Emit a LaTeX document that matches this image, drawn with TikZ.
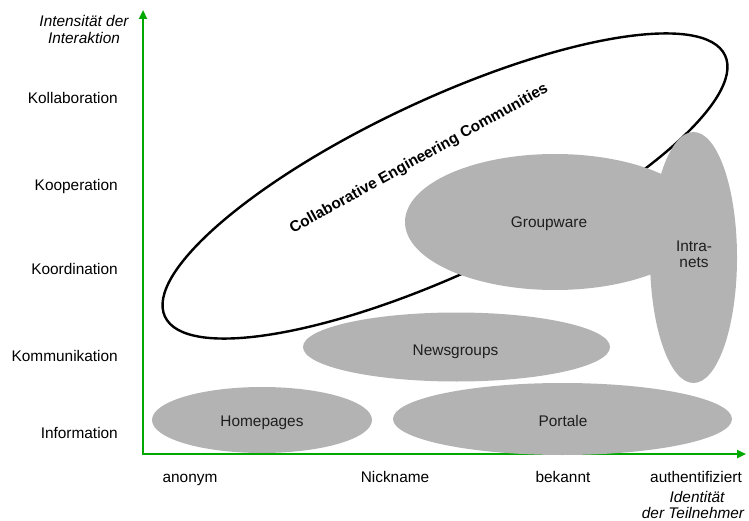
\documentclass[tikz,border=0pt]{standalone}
\usepackage{fontspec}
\setmainfont{Liberation Sans}
\usetikzlibrary{shapes.geometric,arrows.meta}
\definecolor{axisgreen}{RGB}{0,168,0}
\definecolor{blobgrey}{RGB}{179,179,179}
\definecolor{labelink}{RGB}{30,30,30}
\begin{document}
\begin{tikzpicture}[x=1pt,y=-1pt,
  lbl/.style={font=\fontsize{15.4}{17}\selectfont, inner sep=0pt, text=black},
  ilbl/.style={lbl, font=\fontsize{15.4}{17}\selectfont\itshape},
  blob/.style={ellipse, fill=blobgrey, draw=none, inner sep=0pt},
  bloblbl/.style={lbl, text=labelink, anchor=base},
  axisline/.style={draw=axisgreen, line width=2.5pt,
    {Triangle[length=9pt,width=8pt]}-{Triangle[length=9pt,width=8pt]}}]
\useasboundingbox (0,0) rectangle (749,521);

% axes
\coordinate (O) at (143,454);
\coordinate (ytop) at (143,10);
\coordinate (xend) at (746,454);
\draw[axisline] (ytop) -- (O) -- (xend);

% axis titles
\node[ilbl, anchor=base] (ytitleA) at (84,27) {Intensität der};
\node[ilbl, anchor=base] (ytitleB) at (84,44) {Interaktion};
\node[ilbl, anchor=base] (xtitleA) at (697,502) {Identität};
\node[ilbl, anchor=base] (xtitleB) at (693,518) {der Teilnehmer};

% levels of interaction
\node[lbl, anchor=base east] (kol) at (118,104) {Kollaboration};
\node[lbl, anchor=base east] (koop) at (118,191) {Kooperation};
\node[lbl, anchor=base east] (koord) at (118,274) {Koordination};
\node[lbl, anchor=base east] (komm) at (118,361) {Kommunikation};
\node[lbl, anchor=base east] (info) at (118,438) {Information};

% identity of participants
\node[lbl, anchor=base] (anon) at (190,482) {anonym};
\node[lbl, anchor=base] (nick) at (395,482) {Nickname};
\node[lbl, anchor=base] (bek) at (563,482) {bekannt};
\node[lbl, anchor=base] (auth) at (696,482) {authentifiziert};

% collaborative engineering communities
\node[ellipse, draw=black, line width=2.4pt, inner sep=0pt,
      minimum width=618pt, minimum height=174pt, rotate=25] (cec) at (445,186) {};
\node[lbl, font=\fontsize{15.4}{17}\selectfont\bfseries, anchor=base, rotate=29]
      (cectext) at (421,162.5) {Collaborative Engineering Communities};

% application areas
\node[blob, minimum width=220pt, minimum height=66pt] (home) at (262,420) {};
\node[bloblbl] (homet) at (262,426) {Homepages};
\node[blob, minimum width=339pt, minimum height=72pt] (port) at (562.5,419) {};
\node[bloblbl] (portt) at (563,426) {Portale};
\node[blob, minimum width=307pt, minimum height=69pt] (news) at (456.5,347) {};
\node[bloblbl] (newst) at (455.5,355) {Newsgroups};
\node[blob, minimum width=300pt, minimum height=136pt] (grp) at (555,222) {};
\node[bloblbl] (grpt) at (549,228) {Groupware};
\node[blob, minimum width=87pt, minimum height=251pt] (intra) at (693.5,257.5) {};
\node[bloblbl, align=center] (intrat) at (694,268) {Intra-\\nets};

\end{tikzpicture}
\end{document}
